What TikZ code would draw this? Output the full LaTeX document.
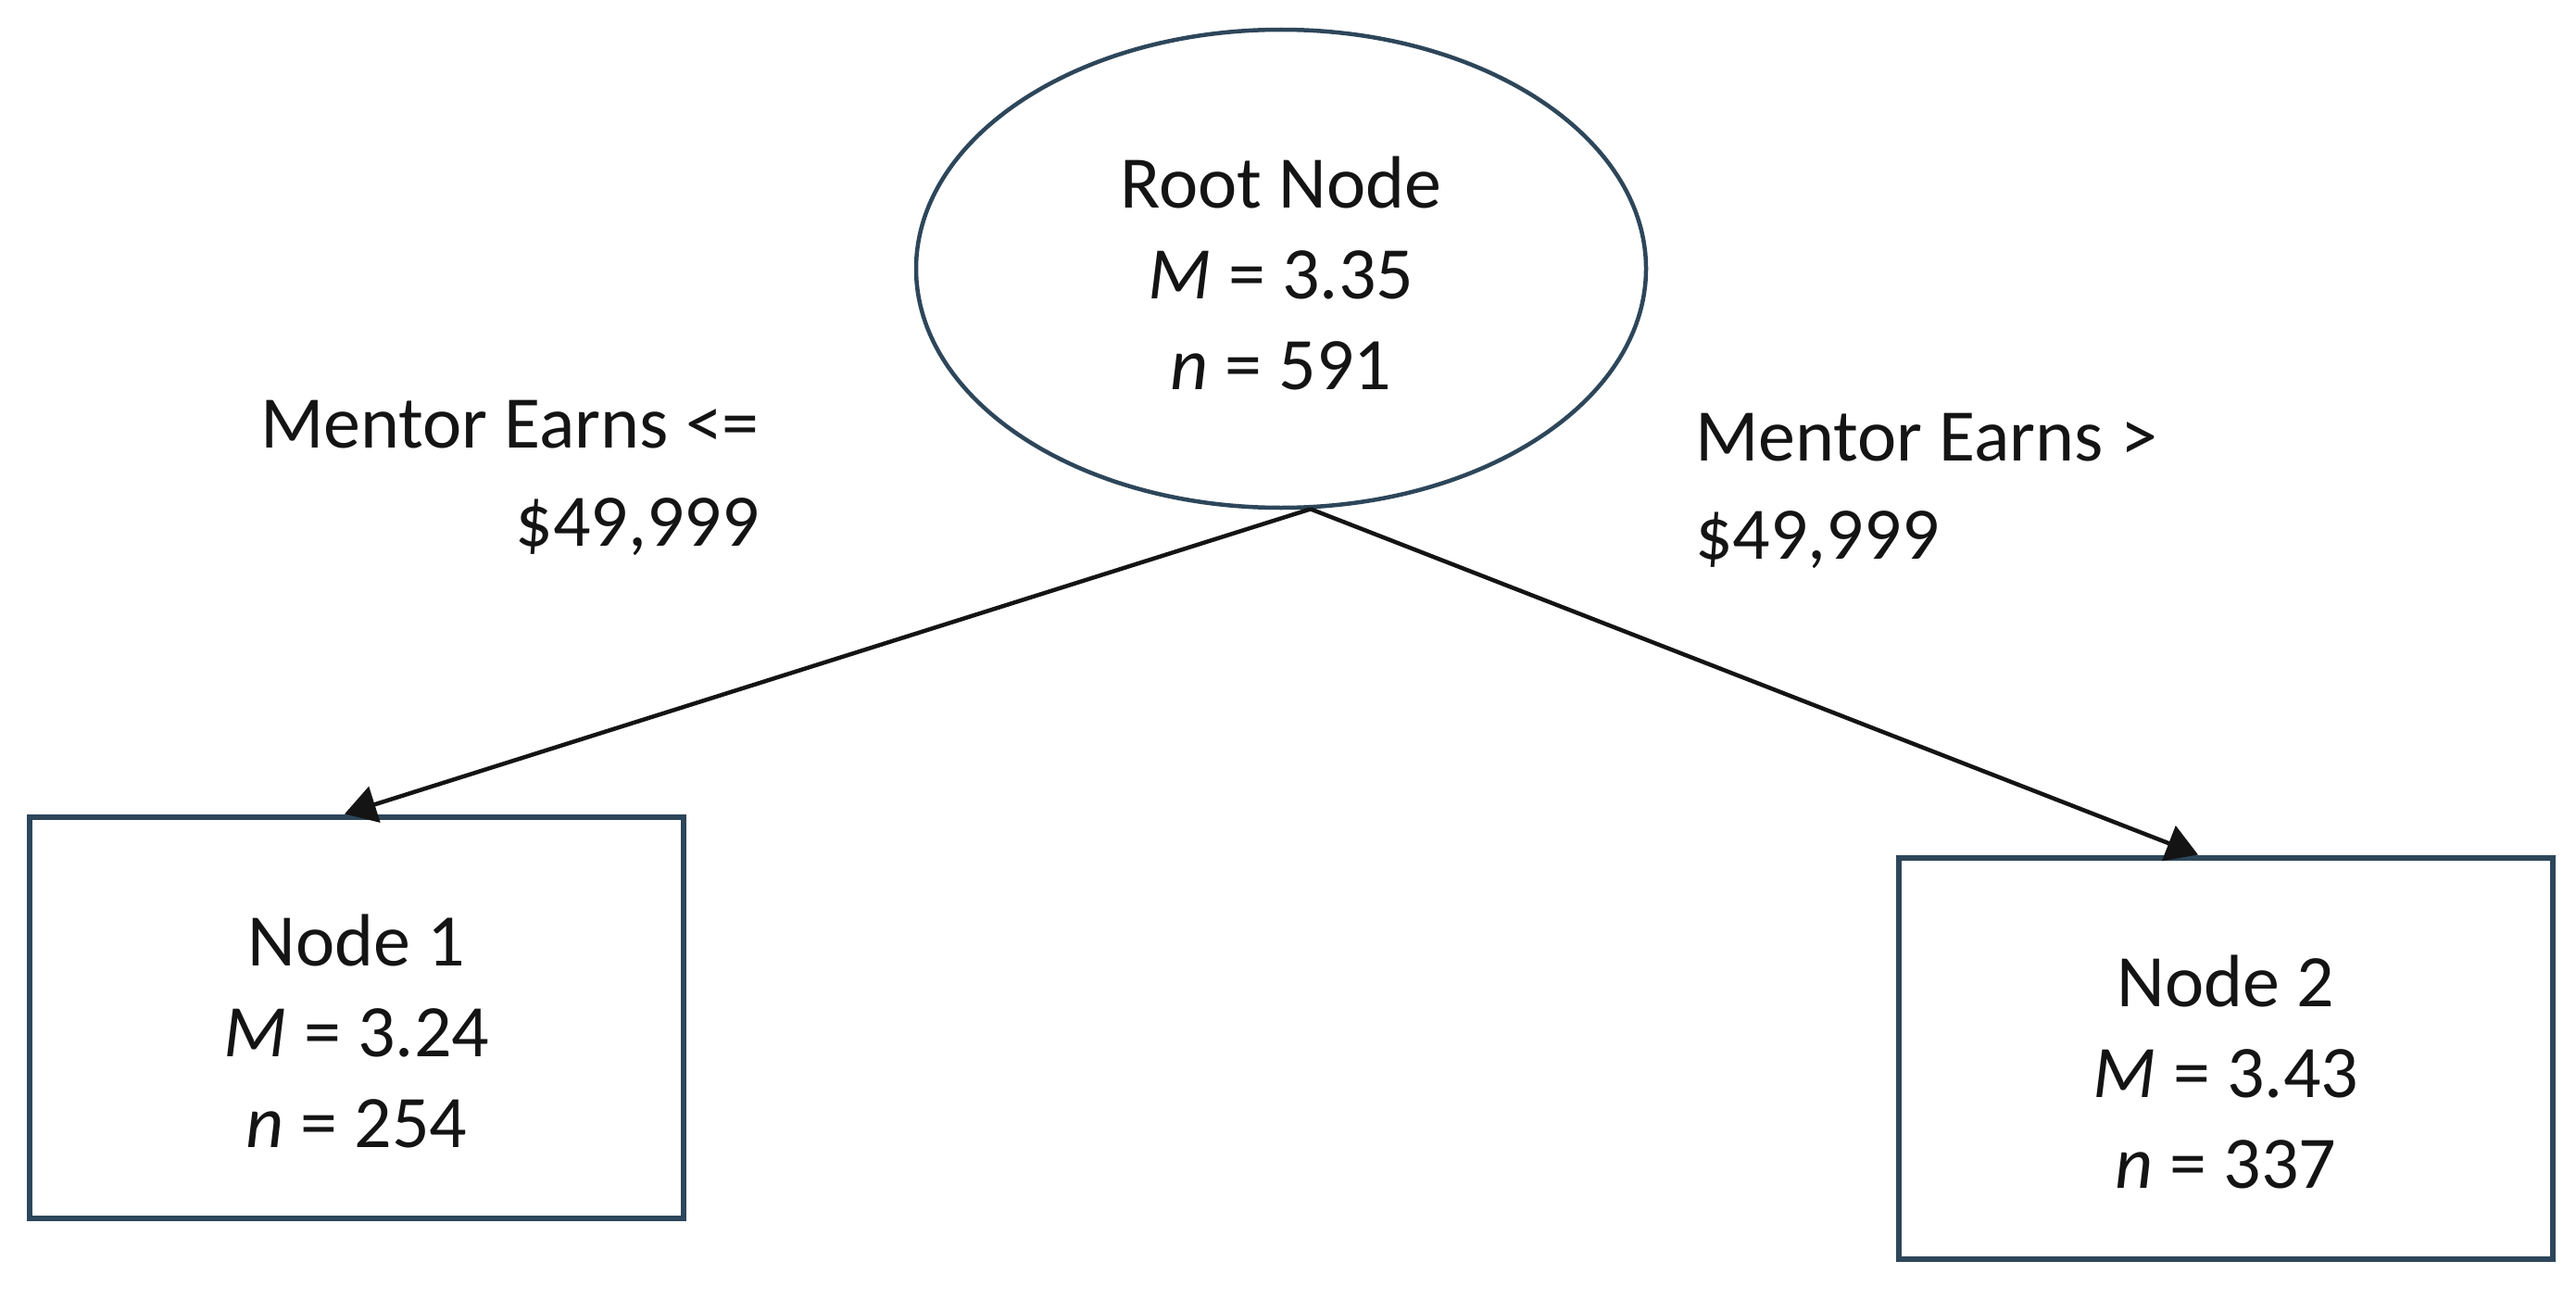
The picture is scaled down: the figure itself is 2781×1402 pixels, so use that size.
\documentclass[tikz,border=0pt]{standalone}
\usepackage{fontspec}
\setmainfont{Carlito}
\usetikzlibrary{shapes.geometric,arrows.meta}
\definecolor{edgeblue}{RGB}{45,70,90}
\definecolor{ink}{RGB}{20,20,20}
\tikzset{
  txt/.style={font=\fontsize{80}{98}\selectfont, text=ink, align=center, inner sep=0pt},
  rootshape/.style={ellipse, draw=edgeblue, line width=4.5pt, minimum width=788pt, minimum height=516pt, inner sep=0pt},
  leafbox/.style={rectangle, draw=edgeblue, line width=6pt, minimum width=706pt, minimum height=433pt, inner sep=0pt},
  cond/.style={font=\fontsize{80}{106}\selectfont, text=ink, inner sep=0pt},
  conn/.style={line width=4.5pt, draw=ink, -{Triangle[length=34pt,width=40pt]}}
}
\begin{document}
\begin{tikzpicture}[x=1pt,y=-1pt]
\useasboundingbox (0,0) rectangle (2781,1402);
\fill[white] (0,0) rectangle (2781,1402);
\node[rootshape] (root) at (1383,290) {};
\node[txt] (roott) at ([yshift=-5pt]root.center) {Root Node\\\textit{M} = 3.35\\\textit{n} = 591};
\node[leafbox] (n1) at (385,1098) {};
\node[txt] (n1t) at ([yshift=-15pt]n1.center) {Node 1\\\textit{M} = 3.24\\\textit{n} = 254};
\node[leafbox] (n2) at (2403,1142) {};
\node[txt] (n2t) at ([yshift=-15pt]n2.center) {Node 2\\\textit{M} = 3.43\\\textit{n} = 337};
\node[cond, align=right, anchor=east] (lab1) at (820,516) {Mentor Earns <=\\\$49,999};
\node[cond, align=left, anchor=west] (lab2) at (1830,530) {Mentor Earns >\\\$49,999};
\draw[conn] (root.-83) -- ([xshift=-13pt]n1.north);
\draw[conn] (root.-83) -- ([xshift=-30pt]n2.north);
\end{tikzpicture}
\end{document}
